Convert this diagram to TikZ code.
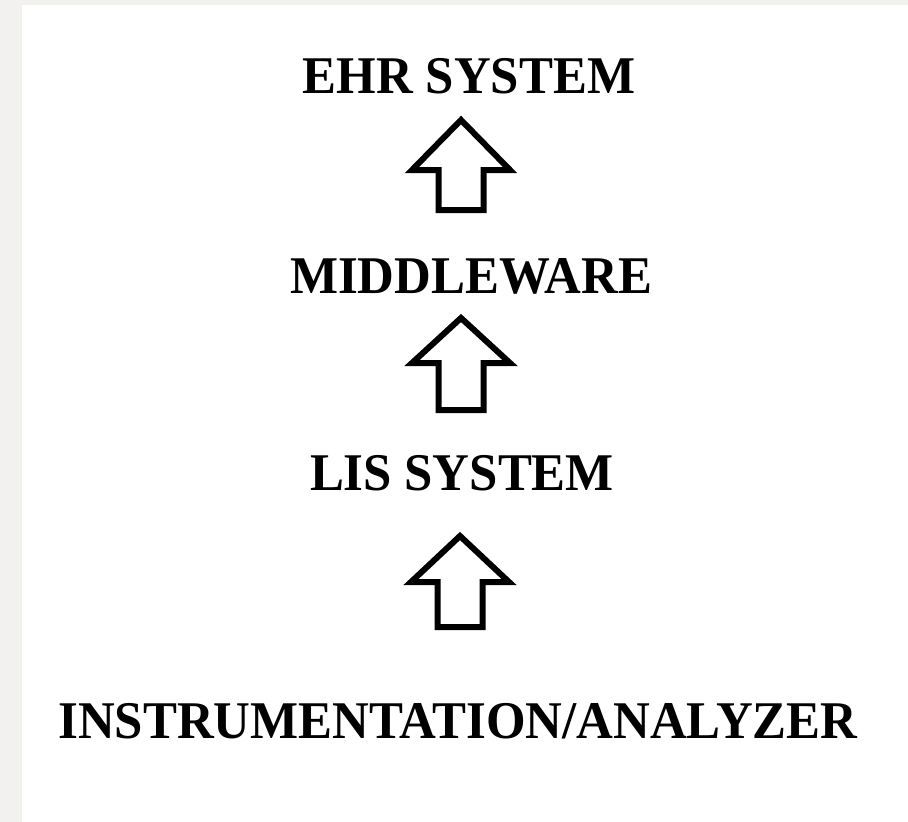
\documentclass[tikz,border=0pt]{standalone}
\usepackage{fontspec}
\setmainfont{Liberation Serif}[FakeStretch=0.96]
\definecolor{pagegray}{HTML}{F2F1EF}
\tikzset{
  label/.style={font=\fontsize{53}{60}\selectfont\bfseries, inner sep=0pt, anchor=base},
  blockarrow/.style={draw=black, line width=6pt, fill=white, line join=miter}
}
\newcommand{\uparrowshape}[4]{% center x, tip y, wing y, bottom y
  \draw[blockarrow] (#1,#2) -- (#1+49,#3) -- (#1+22.5,#3) -- (#1+22.5,#4) -- (#1-22.5,#4) -- (#1-22.5,#3) -- (#1-49,#3) -- cycle;
}
\begin{document}
\begin{tikzpicture}[x=1pt,y=-1pt]
  \useasboundingbox (0,0) rectangle (908,822);
  \fill[pagegray] (0,0) rectangle (908,822);
  \fill[white] (22,5) rectangle (908,822);
  \node[label] (ehr) at (469,93) {EHR SYSTEM};
  \node[label] (mid) at (471,293) {MIDDLEWARE};
  \node[label] (lis) at (462,490) {LIS SYSTEM};
  \node[label] (ins) at (458,738) {INSTRUMENTATION/ANALYZER};
  \uparrowshape{461}{120}{170}{210}
  \uparrowshape{461}{318}{363}{410}
  \uparrowshape{460}{536}{582}{627}
\end{tikzpicture}
\end{document}
